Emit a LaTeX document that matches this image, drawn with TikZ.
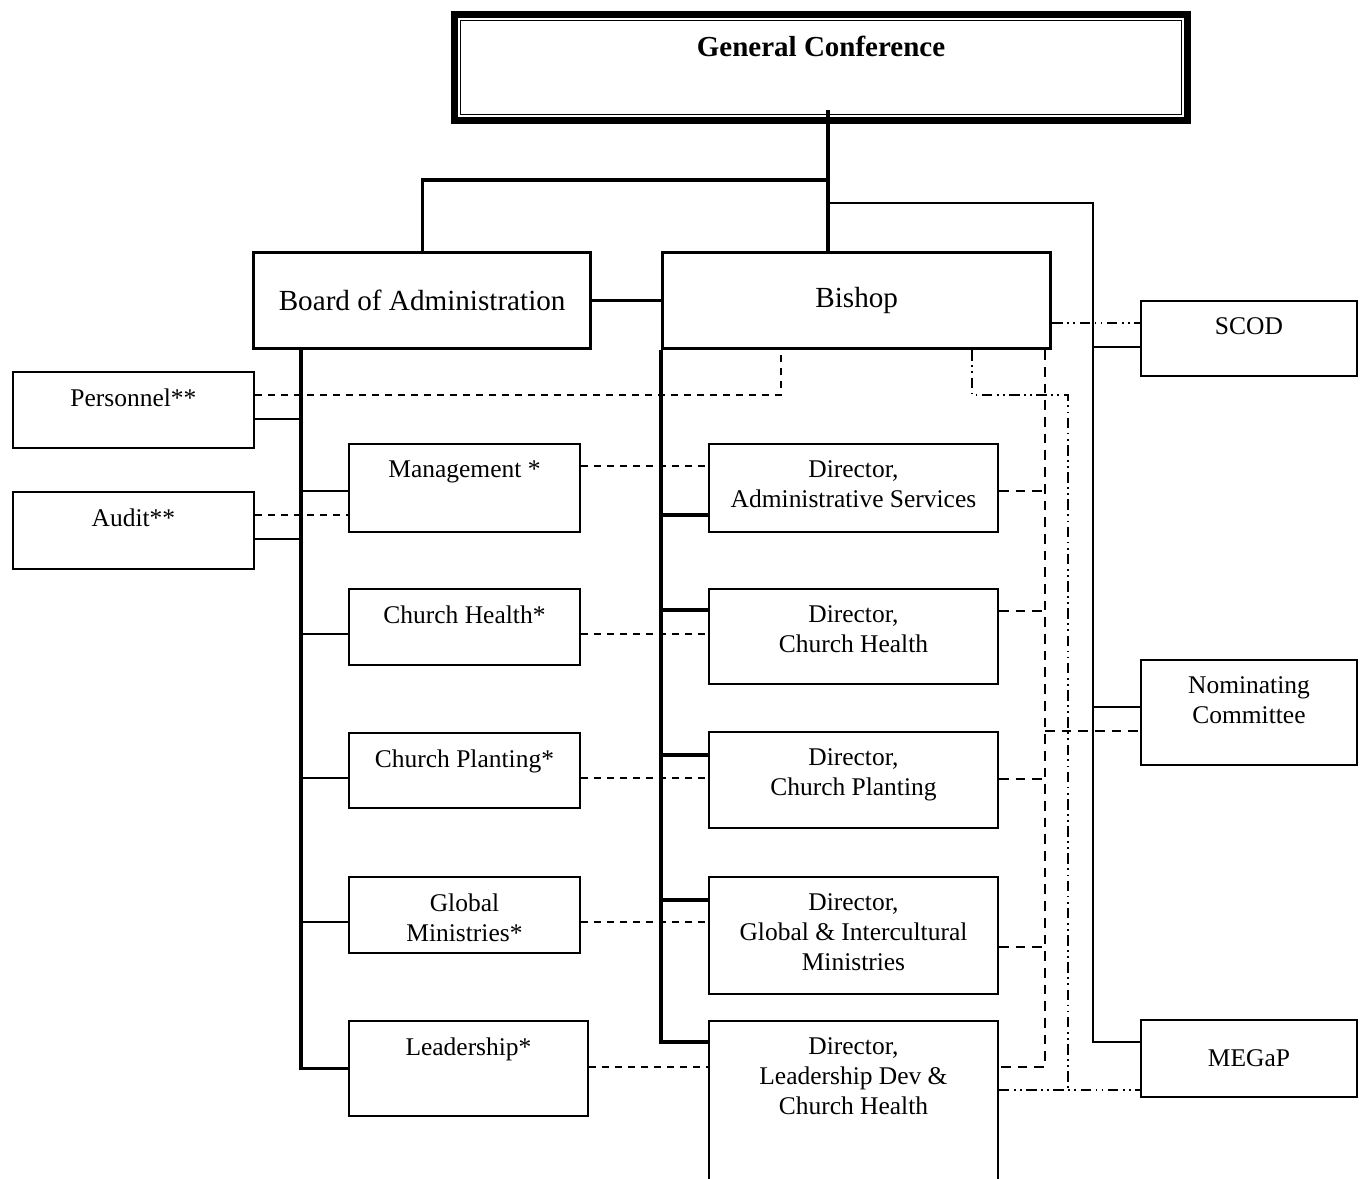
\documentclass[tikz,border=0pt]{standalone}
\usepackage{fontspec}
\setmainfont{Liberation Serif}
\usetikzlibrary{positioning, calc}

\tikzset{
  box/.style={draw, line width=1.1pt, anchor=north west, inner sep=0pt,
    font=\fontsize{14.5}{17.1}\selectfont},
  bigbox/.style={box, line width=1.9pt, font=\fontsize{16.6}{19}\selectfont},
  sz/.style 2 args={minimum width=#1*0.02cm, minimum height=#2*0.02cm},
  txt/.style={anchor=north, inner sep=0pt, align=center,
    yshift=-0.35cm, font=\fontsize{14.5}{17.1}\selectfont},
  ttl/.style={label={[txt]north:#1}},
  link/.style={line width=1.9pt},
  thin/.style={line width=1pt},
  dsh/.style={line width=0.9pt, dash pattern=on 4pt off 3.4pt},
  bdsh/.style={line width=1.4pt, dash pattern=on 5.5pt off 4pt},
  ddot/.style={line width=0.9pt, dash pattern=on 6pt off 2.5pt on 1pt off 2.5pt on 1pt off 2.5pt}
}

\begin{document}
\begin{tikzpicture}[x=0.02cm, y=-0.02cm]
  \useasboundingbox (0,0) rectangle (1360,1179);
  \clip (0,0) rectangle (1360,1179);

  % conference
  \node[box, sz={733}{106}, line width=4pt,
    label={[txt, yshift=-0.15cm, font=\fontsize{16.5}{19}\selectfont\bfseries]north:General Conference}]
    (gc) at (451,11) {};
  \draw[line width=0.6pt, double, double distance=1.2pt]
    ([xshift=0.16cm, yshift=-0.16cm]gc.north west) rectangle ([xshift=-0.16cm, yshift=0.16cm]gc.south east);

  % second level
  \node[bigbox, sz={337}{96}] (board) at (252,251) {Board of Administration};
  \node[bigbox, sz={388}{96}] (bish) at (661,251) {Bishop};

  % board side
  \node[box, sz={241}{76}, ttl={Personnel**}] (pers) at (12,371) {};
  \node[box, sz={241}{77}, ttl={Audit**}] (aud) at (12,491) {};
  \node[box, sz={231}{88}, ttl={Management *}] (mgmt) at (348,443) {};
  \node[box, sz={231}{76}, ttl={Church Health*}] (chs) at (348,588) {};
  \node[box, sz={231}{75}, ttl={Church Planting*}] (cps) at (348,732) {};
  \node[box, sz={231}{76}, ttl={Global\\Ministries*}] (gms) at (348,876) {};
  \node[box, sz={239}{95}, ttl={Leadership*}] (lead) at (348,1020) {};

  % directors
  \node[box, sz={289}{88}, ttl={Director,\\Administrative Services}] (da) at (708,443) {};
  \node[box, sz={289}{95}, ttl={Director,\\Church Health}] (dch) at (708,588) {};
  \node[box, sz={289}{96}, ttl={Director,\\Church Planting}] (dcp) at (708,731) {};
  \node[box, sz={289}{117}, ttl={Director,\\Global \& Intercultural\\Ministries}] (dgm) at (708,876) {};
  \node[box, sz={289}{200}, ttl={Director,\\Leadership Dev \&\\Church Health}] (dld) at (708,1020) {};

  % committees
  \node[box, sz={216}{75}, ttl={SCOD}] (scod) at (1140,300) {};
  \node[box, sz={216}{105}, ttl={Nominating\\Committee}] (nom) at (1140,659) {};
  \node[box, sz={216}{77}] (megap) at (1140,1019) {MEGaP};

  % lines from the conference
  \coordinate (gcfoot) at (828,110);
  \coordinate (jboard) at (828,180);
  \coordinate (jright) at (828,203);
  \draw[link] (gcfoot) -- (gcfoot |- bish.north);
  \draw[link] (jboard) -| (board.north);
  \draw[link] (board.east) -- (bish.west |- board.east);
  \draw[thin] (jright) -- (1093,203) |- (megap.west |- 0,1042);
  \draw[thin] (1093,347) -- (scod.west |- 0,347);
  \draw[thin] (1093,707) -- (nom.west |- 0,707);

  % board bus
  \draw[link] (board.south -| 301,0) |- (lead.west);
  \foreach \n/\y in {pers/419, aud/539}
    \draw[thin] (301,\y) -- (\n.east |- 0,\y);
  \foreach \n/\y in {mgmt/491, chs/634, cps/778, gms/922}
    \draw[thin] (301,\y) -- (\n.west |- 0,\y);

  % bishop bus
  \draw[link] (bish.south west) |- (dld.west |- 0,1042);
  \foreach \n/\y in {da/515, dch/610, dcp/755, dgm/900}
    \draw[link] (661,\y) -- (\n.west |- 0,\y);

  % dashed links
  \draw[dsh] (pers.east |- 0,395) -| (bish.south -| 781,0);
  \draw[dsh] (aud.east |- 0,515) -- (mgmt.west |- 0,515);
  \foreach \a/\b/\y in {mgmt/da/466, chs/dch/634, cps/dcp/778, gms/dgm/922, lead/dld/1067}
    \draw[dsh] (\a.east |- 0,\y) -- (\b.west |- 0,\y);

  \draw[bdsh] (bish.south -| 1045,0) |- (dld.east |- 0,1067);
  \foreach \n/\y in {da/491, dch/611, dcp/779, dgm/947}
    \draw[bdsh] (\n.east |- 0,\y) -- (1045,\y);
  \draw[bdsh] (1045,731) -- (nom.west |- 0,731);

  % dash-dot links
  \draw[ddot] (bish.east |- 0,323) -- (scod.west |- 0,323);
  \draw[ddot] (bish.south -| 972,0) |- (1068,395) -- (1068,1090);
  \draw[ddot] (dld.east |- 0,1090) -- (megap.west |- 0,1090);
\end{tikzpicture}
\end{document}
